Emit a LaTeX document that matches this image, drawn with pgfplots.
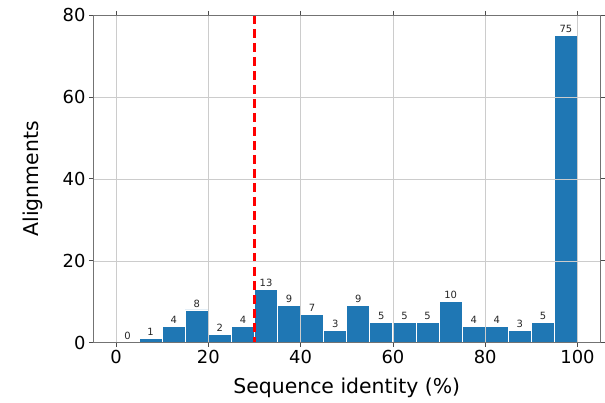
\documentclass[border=0pt]{standalone}
\usepackage{fontspec}
\setmainfont{DejaVu Sans}
\usepackage{pgfplots}
\pgfplotsset{compat=1.18}
\definecolor{barblue}{HTML}{1F77B4}
\begin{document}
\begin{tikzpicture}
% page frame matching the 605x403 reference
\path (-93bp,-60bp) rectangle (512bp,343bp);
\begin{axis}[
    scale only axis, width=508bp, height=328bp,
    xmin=-5, xmax=105, ymin=0, ymax=80,
    xtick={0,20,...,100}, ytick={0,20,...,80},
    grid=major, grid style={black!20, line width=0.6bp},
    axis on top,
    axis line style={black!55, line width=0.8bp},
    tick align=outside, major tick length=4bp,
    tick style={black!70, line width=0.8bp},
    tick label style={font=\fontsize{18}{18}\selectfont},
    /pgf/number format/assume math mode=true,
    xlabel={Sequence identity (\%)}, ylabel={Alignments},
    label style={font=\fontsize{20.5}{21}\selectfont},
    xlabel style={yshift=-7bp},
    ylabel style={yshift=13bp},
]
\addplot[ybar, bar width=5, fill=barblue, draw=white, line width=0.9bp,
    nodes near coords,
    every node near coord/.append style={font=\fontsize{10}{10}\selectfont, black!85, yshift=-1bp}]
coordinates {
(2.5,0) (7.5,1) (12.5,4) (17.5,8) (22.5,2) (27.5,4) (32.5,13) (37.5,9) (42.5,7) (47.5,3)
(52.5,9) (57.5,5) (62.5,5) (67.5,5) (72.5,10) (77.5,4) (82.5,4) (87.5,3) (92.5,5) (97.5,75)
};
\addplot[red, line width=2.6bp, dash pattern=on 9bp off 5bp] coordinates {(30,80) (30,0)};
\end{axis}
\end{tikzpicture}
\end{document}
